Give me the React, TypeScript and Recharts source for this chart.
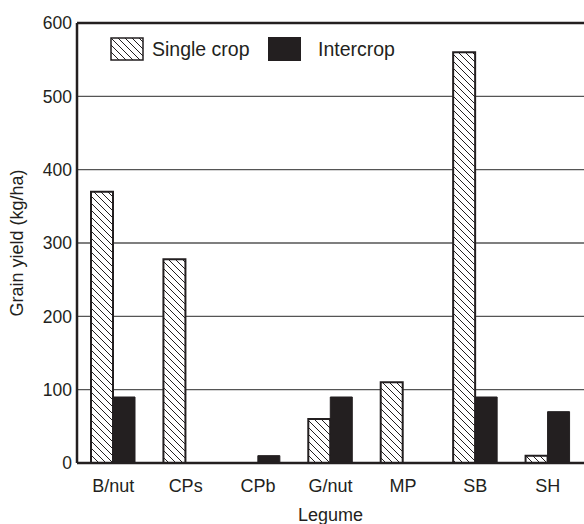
import React from "react";
import {
  BarChart,
  Bar,
  XAxis,
  YAxis,
  CartesianGrid,
  ReferenceLine,
} from "recharts";

const legumes = ["B/nut", "CPs", "CPb", "G/nut", "MP", "SB", "SH"];
const singleCrop = [370, 278, 0, 60, 110, 560, 10];
const intercrop = [90, 0, 10, 90, 0, 90, 70];
const yTicks = [0, 100, 200, 300, 400, 500, 600];

const data = legumes.map((name, i) => ({
  name,
  single: singleCrop[i],
  inter: intercrop[i],
}));

const FONT = "'Liberation Sans', Arial, sans-serif";
const INK = "#231f20";

function HatchPattern({ id }: { id: string }) {
  return (
    <pattern id={id} width={7} height={7} patternUnits="userSpaceOnUse">
      <rect width={7} height={7} fill="#fff" />
      <path d="M0,0 L7,7 M-3.5,3.5 L3.5,10.5 M3.5,-3.5 L10.5,3.5" stroke={INK} strokeWidth={1} />
    </pattern>
  );
}

function LegendBox() {
  return (
    <div
      style={{
        position: "absolute",
        left: 110,
        top: 37,
        display: "flex",
        alignItems: "center",
        fontFamily: FONT,
        fontSize: 19.5,
        color: INK,
        lineHeight: "24px",
      }}
    >
      <svg width={34} height={24} style={{ marginRight: 8, display: "block" }}>
        <defs>
          <HatchPattern id="hatchLegend" />
        </defs>
        <rect x={1} y={1} width={32} height={22} fill="url(#hatchLegend)" stroke={INK} strokeWidth={1.5} />
      </svg>
      <span style={{ width: 116 }}>Single crop</span>
      <svg width={33} height={24} style={{ marginRight: 17, display: "block" }}>
        <rect x={0} y={0} width={33} height={24} fill={INK} />
      </svg>
      <span>Intercrop</span>
    </div>
  );
}

export default function App() {
  return (
    <div style={{ position: "absolute", left: 0, top: 0, width: 584, height: 524, background: "#fff" }}>
      <BarChart
        width={584}
        height={524}
        data={data}
        margin={{ top: 23, right: 0, bottom: 0, left: 0 }}
        barSize={22}
        barGap={0}
      >
        <defs>
          <HatchPattern id="hatch" />
        </defs>
        <CartesianGrid vertical={false} stroke="#555" strokeWidth={1.3} />
        <XAxis
          dataKey="name"
          height={61}
          axisLine={{ stroke: INK, strokeWidth: 2.5 }}
          tickLine={false}
          tickMargin={10}
          tick={{ fill: INK, fontSize: 18, fontFamily: FONT }}
          label={{ value: "Legume", position: "insideBottom", offset: 3, fill: INK, fontSize: 18, fontFamily: FONT }}
        />
        <YAxis
          width={77}
          domain={[0, 600]}
          ticks={yTicks}
          interval={0}
          axisLine={{ stroke: INK, strokeWidth: 2.5 }}
          tickLine={false}
          tickSize={3}
          tickMargin={2}
          tick={{ fill: INK, fontSize: 17.5, fontFamily: FONT }}
          label={{
            value: "Grain yield (kg/ha)",
            angle: -90,
            position: "insideLeft",
            offset: 17,
            style: { textAnchor: "middle" },
            fill: INK,
            fontSize: 18,
            fontFamily: FONT,
          }}
        />
        <ReferenceLine y={600} stroke={INK} strokeWidth={2.5} />
        <Bar dataKey="single" name="Single crop" fill="url(#hatch)" stroke={INK} strokeWidth={2} isAnimationActive={false} />
        <Bar dataKey="inter" name="Intercrop" fill={INK} stroke={INK} strokeWidth={1} isAnimationActive={false} />
      </BarChart>
      <LegendBox />
    </div>
  );
}
